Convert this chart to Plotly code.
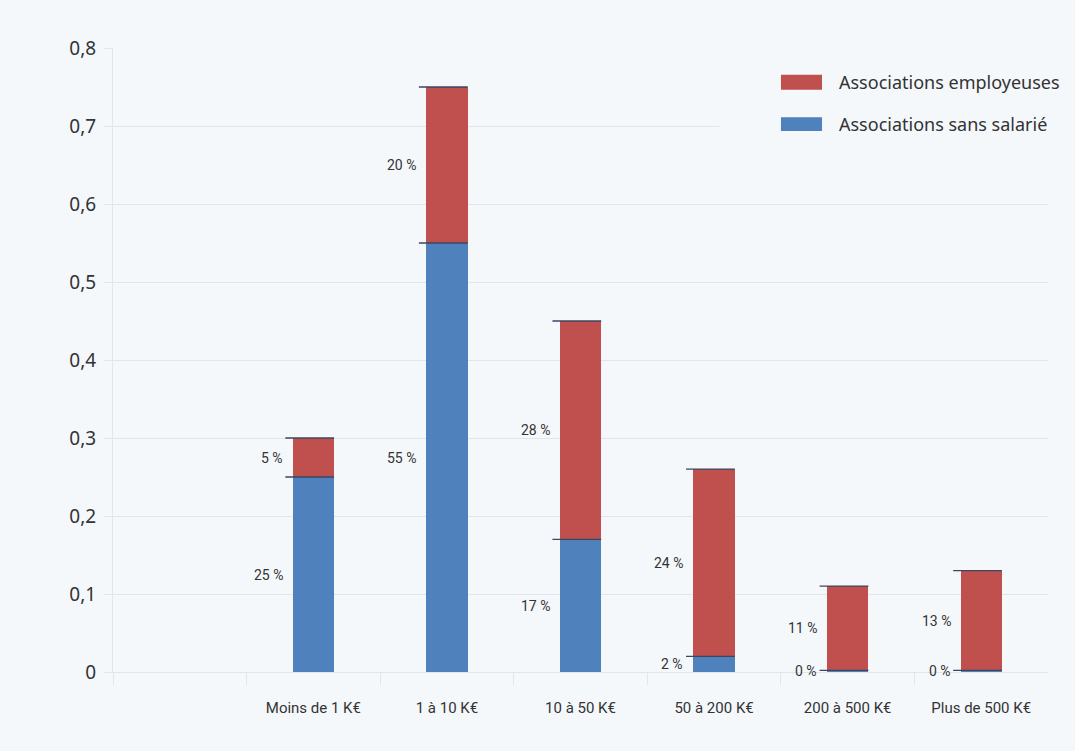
import plotly.graph_objects as go

# categories (first slot is empty in the original chart)
categories = ["", "Moins de 1 K€", "1 à 10 K€", "10 à 50 K€", "50 à 200 K€", "200 à 500 K€", "Plus de 500 K€"]
sans_salarie = [None, 0.25, 0.55, 0.17, 0.02, 0.002, 0.002]
employeuses = [None, 0.05, 0.20, 0.28, 0.24, 0.108, 0.128]
labels_sans = ["", "25 %", "55 %", "17 %", "2 %", "0 %", "0 %"]
labels_empl = ["", "5 %", "20 %", "28 %", "24 %", "11 %", "13 %"]
y_ticks = [0, 0.1, 0.2, 0.3, 0.4, 0.5, 0.6, 0.7, 0.8]
series_names = ["Associations employeuses", "Associations sans salarié"]

BLUE = "#4f81bd"
RED = "#c0504d"
BG = "#f5f8fb"
GRID = "#e2e6ea"
TEXT = "#333333"
FONT = "Noto Sans, sans-serif"
NARROW = "Roboto, sans-serif"
BAR_W = 0.31

xs = list(range(len(categories)))

fig = go.Figure()
fig.add_trace(go.Bar(x=xs, y=sans_salarie, name=series_names[1],
                     marker=dict(color=BLUE, line=dict(width=0)), width=BAR_W))
fig.add_trace(go.Bar(x=xs, y=employeuses, name=series_names[0],
                     marker=dict(color=RED, line=dict(width=0)), width=BAR_W))

# value labels and small lines at the top of each segment
for i in xs:
    if sans_salarie[i] is None:
        continue
    b = sans_salarie[i]
    t = b + employeuses[i]
    for top, mid, txt in [(b, b / 2, labels_sans[i]), (t, (b + t) / 2, labels_empl[i])]:
        fig.add_shape(type="line", xref="x", yref="y",
                      x0=i - BAR_W / 2 - 0.055, x1=i + BAR_W / 2, y0=top, y1=top,
                      line=dict(color="#3b4660", width=1.3), layer="above")
        fig.add_annotation(x=i - BAR_W / 2, y=mid, text=txt, showarrow=False,
                           xanchor="right", yanchor="middle", xshift=-8,
                           font=dict(family=NARROW, size=14, color=TEXT))

# legend drawn by hand (wide swatches, background hides the grid behind it)
fig.add_shape(type="rect", xref="paper", yref="paper", x0=0.649, x1=1.03, y0=0.853, y1=0.981,
              fillcolor=BG, line=dict(width=0), layer="above")
for (y0, y1, yc), name, col in zip([(0.933, 0.957, 0.945), (0.867, 0.889, 0.878)],
                                    series_names, [RED, BLUE]):
    fig.add_shape(type="rect", xref="paper", yref="paper", x0=0.7144, x1=0.7583, y0=y0, y1=y1,
                  fillcolor=col, line=dict(width=0), layer="above")
    fig.add_annotation(xref="paper", yref="paper", x=0.7743, y=yc, text=name, showarrow=False,
                       xanchor="left", yanchor="middle",
                       font=dict(family=FONT, size=18, color=TEXT))

fig.update_layout(
    barmode="stack",
    width=1075, height=751,
    paper_bgcolor=BG, plot_bgcolor=BG,
    separators=", ",
    margin=dict(l=113, r=27, t=48, b=79),
    showlegend=False,
)
fig.update_xaxes(
    range=[-0.5, len(categories) - 0.5],
    tickvals=xs, ticktext=categories, ticks="", showgrid=False,
    showline=True, linecolor=GRID, linewidth=1, zeroline=False,
    tickfont=dict(family=NARROW, size=15, color=TEXT), ticklabelstandoff=22,
    minor=dict(tickvals=[x - 0.5 for x in xs], ticks="outside", ticklen=12,
               tickcolor=GRID, showgrid=False),
)
fig.update_yaxes(
    range=[0, 0.8], tickvals=y_ticks, showgrid=True, gridcolor=GRID, gridwidth=1,
    showline=True, linecolor=GRID, zeroline=False,
    ticks="outside", ticklen=8, tickcolor=GRID, ticklabelstandoff=4,
    tickfont=dict(family=FONT, size=19, color=TEXT),
)

fig.write_html("out.html", config={"displayModeBar": False},
               post_script="document.body.style.margin='0';document.body.style.background='%s';" % BG)
